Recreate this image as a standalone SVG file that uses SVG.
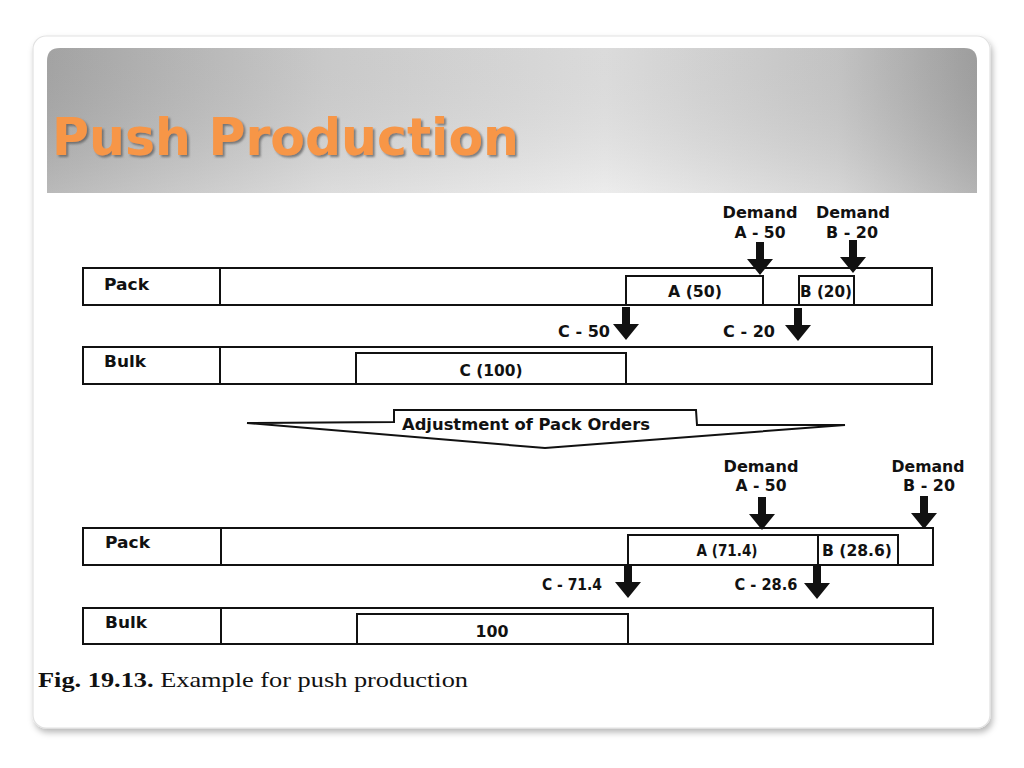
<svg xmlns="http://www.w3.org/2000/svg" xmlns:xlink="http://www.w3.org/1999/xlink" width="1024" height="768" viewBox="0 0 1024 768">
  <defs>
    <linearGradient id="hdr" x1="0" y1="0" x2="1" y2="0">
      <stop offset="0" stop-color="#adadad"/>
      <stop offset="0.3" stop-color="#d6d6d6"/>
      <stop offset="0.6" stop-color="#e9e9e9"/>
      <stop offset="0.85" stop-color="#cfcfcf"/>
      <stop offset="1" stop-color="#a7a7a7"/>
    </linearGradient>
    <linearGradient id="hdrv" x1="0" y1="0" x2="0" y2="1">
      <stop offset="0" stop-color="#000" stop-opacity="0.06"/>
      <stop offset="1" stop-color="#fff" stop-opacity="0.15"/>
    </linearGradient>
    <filter id="cardShadow" x="-5%" y="-5%" width="110%" height="112%">
      <feDropShadow dx="2" dy="4" stdDeviation="3" flood-color="#000" flood-opacity="0.28"/>
    </filter>
    <filter id="titleShadow" x="-5%" y="-20%" width="110%" height="140%">
      <feDropShadow dx="2" dy="2" stdDeviation="1.2" flood-color="#555" flood-opacity="0.7"/>
    </filter>
    <path id="darr" d="M-4,-33 L4,-33 L4,-16 L13,-16 L0,0 L-13,-16 L-4,-16 Z"/>
    <style>
      .row { fill: #fff; stroke: #111; stroke-width: 2; }
      .div { stroke: #111; stroke-width: 2; }
      .box { fill: #fff; stroke: #111; stroke-width: 2; }
      .lbl { font-family: "DejaVu Sans", Verdana, sans-serif; font-weight: bold; font-size: 15px; fill: #111; }
      .arr { fill: #111; }
      .cap { font-family: "Liberation Serif", "Times New Roman", serif; font-size: 21px; fill: #111; }
    </style>
  </defs>

  <rect width="1024" height="768" fill="#fff"/>

  <!-- card -->
  <g id="card">
    <rect x="33" y="36" width="957" height="692" rx="13" fill="#fff" stroke="#e2e2e2" stroke-width="1.2" filter="url(#cardShadow)"/>
    <path d="M47,193 L47,61 Q47,48 60,48 L964,48 Q977,48 977,61 L977,193 Z" fill="url(#hdr)"/>
    <path d="M47,193 L47,61 Q47,48 60,48 L964,48 Q977,48 977,61 L977,193 Z" fill="url(#hdrv)"/>
    <text x="52" y="155" font-family="'DejaVu Sans', Verdana, sans-serif" font-weight="bold" font-size="51" fill="#f79646" textLength="467" lengthAdjust="spacingAndGlyphs" filter="url(#titleShadow)">Push Production</text>
  </g>

  <!-- top scenario -->
  <g id="pack1">
    <rect class="row" x="83" y="268" width="849" height="37"/>
    <line class="div" x1="220" y1="268" x2="220" y2="305"/>
    <text class="lbl" x="104" y="290" textLength="45" lengthAdjust="spacingAndGlyphs">Pack</text>
  </g>
  <g id="a50">
    <rect class="box" x="626" y="276" width="137" height="29"/>
    <text class="lbl" x="695" y="297" text-anchor="middle" textLength="54" lengthAdjust="spacingAndGlyphs">A (50)</text>
  </g>
  <g id="b20">
    <rect class="box" x="799" y="276" width="55" height="29"/>
    <text class="lbl" x="800" y="297" textLength="52" lengthAdjust="spacingAndGlyphs">B (20)</text>
  </g>
  <g id="bulk1">
    <rect class="row" x="83" y="347" width="849" height="37"/>
    <line class="div" x1="220" y1="347" x2="220" y2="384"/>
    <text class="lbl" x="104" y="367" textLength="42" lengthAdjust="spacingAndGlyphs">Bulk</text>
  </g>
  <g id="c100">
    <rect class="box" x="356" y="353" width="270" height="31"/>
    <text class="lbl" x="491" y="376" text-anchor="middle" textLength="63" lengthAdjust="spacingAndGlyphs">C (100)</text>
  </g>

  <g id="demandA1">
    <text class="lbl" x="760" y="218" text-anchor="middle" textLength="75" lengthAdjust="spacingAndGlyphs">Demand</text>
    <text class="lbl" x="760" y="238" text-anchor="middle" textLength="51" lengthAdjust="spacingAndGlyphs">A - 50</text>
  </g>
  <g id="demandB1">
    <text class="lbl" x="853" y="218" text-anchor="middle" textLength="74" lengthAdjust="spacingAndGlyphs">Demand</text>
    <text class="lbl" x="852" y="238" text-anchor="middle" textLength="52" lengthAdjust="spacingAndGlyphs">B - 20</text>
  </g>
  <g id="c50label">
    <text class="lbl" x="584" y="337" text-anchor="middle" textLength="52" lengthAdjust="spacingAndGlyphs">C - 50</text>
  </g>
  <g id="c20label">
    <text class="lbl" x="749" y="337" text-anchor="middle" textLength="52" lengthAdjust="spacingAndGlyphs">C - 20</text>
  </g>

  <!-- adjustment block arrow -->
  <g id="adjust">
    <path d="M247,423 L394,422 L394,410 L696,410 L697,425 L845,425 L545,448 Z" fill="#fff" stroke="#111" stroke-width="2" stroke-linejoin="miter"/>
    <text class="lbl" x="402" y="430" textLength="248" lengthAdjust="spacingAndGlyphs">Adjustment of Pack Orders</text>
  </g>

  <!-- bottom scenario -->
  <g id="pack2">
    <rect class="row" x="83" y="528" width="850" height="37"/>
    <line class="div" x1="221" y1="528" x2="221" y2="565"/>
    <text class="lbl" x="105" y="548" textLength="45" lengthAdjust="spacingAndGlyphs">Pack</text>
  </g>
  <g id="a714">
    <rect class="box" x="628" y="535" width="190" height="30"/>
    <text class="lbl" x="727" y="556" text-anchor="middle" textLength="61" lengthAdjust="spacingAndGlyphs">A (71.4)</text>
  </g>
  <g id="b286">
    <rect class="box" x="818" y="535" width="80" height="30"/>
    <text class="lbl" x="857" y="556" text-anchor="middle" textLength="70" lengthAdjust="spacingAndGlyphs">B (28.6)</text>
  </g>
  <g id="bulk2">
    <rect class="row" x="83" y="608" width="850" height="36"/>
    <line class="div" x1="221" y1="608" x2="221" y2="644"/>
    <text class="lbl" x="105" y="628" textLength="42" lengthAdjust="spacingAndGlyphs">Bulk</text>
  </g>
  <g id="box100">
    <rect class="box" x="357" y="614" width="271" height="30"/>
    <text class="lbl" x="492" y="637" text-anchor="middle" textLength="33" lengthAdjust="spacingAndGlyphs">100</text>
  </g>

  <g id="demandA2">
    <text class="lbl" x="761" y="472" text-anchor="middle" textLength="75" lengthAdjust="spacingAndGlyphs">Demand</text>
    <text class="lbl" x="761" y="491" text-anchor="middle" textLength="51" lengthAdjust="spacingAndGlyphs">A - 50</text>
  </g>
  <g id="demandB2">
    <text class="lbl" x="928" y="472" text-anchor="middle" textLength="73" lengthAdjust="spacingAndGlyphs">Demand</text>
    <text class="lbl" x="929" y="491" text-anchor="middle" textLength="52" lengthAdjust="spacingAndGlyphs">B - 20</text>
  </g>
  <g id="c714label">
    <text class="lbl" x="572" y="590" text-anchor="middle" textLength="60" lengthAdjust="spacingAndGlyphs">C - 71.4</text>
  </g>
  <g id="c286label">
    <text class="lbl" x="766" y="590" text-anchor="middle" textLength="63" lengthAdjust="spacingAndGlyphs">C - 28.6</text>
  </g>

  <!-- connectors: arrows -->
  <g id="connectors" class="arr">
    <use xlink:href="#darr" href="#darr" x="760" y="275"/>
    <use xlink:href="#darr" href="#darr" x="853" y="273"/>
    <use xlink:href="#darr" href="#darr" x="626" y="340"/>
    <use xlink:href="#darr" href="#darr" x="798" y="341"/>
    <use xlink:href="#darr" href="#darr" x="762" y="530"/>
    <use xlink:href="#darr" href="#darr" x="924" y="529"/>
    <use xlink:href="#darr" href="#darr" x="628" y="598"/>
    <use xlink:href="#darr" href="#darr" x="817" y="599"/>
  </g>

  <g id="caption">
    <text class="cap" x="38" y="687" textLength="430" lengthAdjust="spacingAndGlyphs"><tspan font-weight="bold">Fig. 19.13.</tspan> Example for push production</text>
  </g>
</svg>
